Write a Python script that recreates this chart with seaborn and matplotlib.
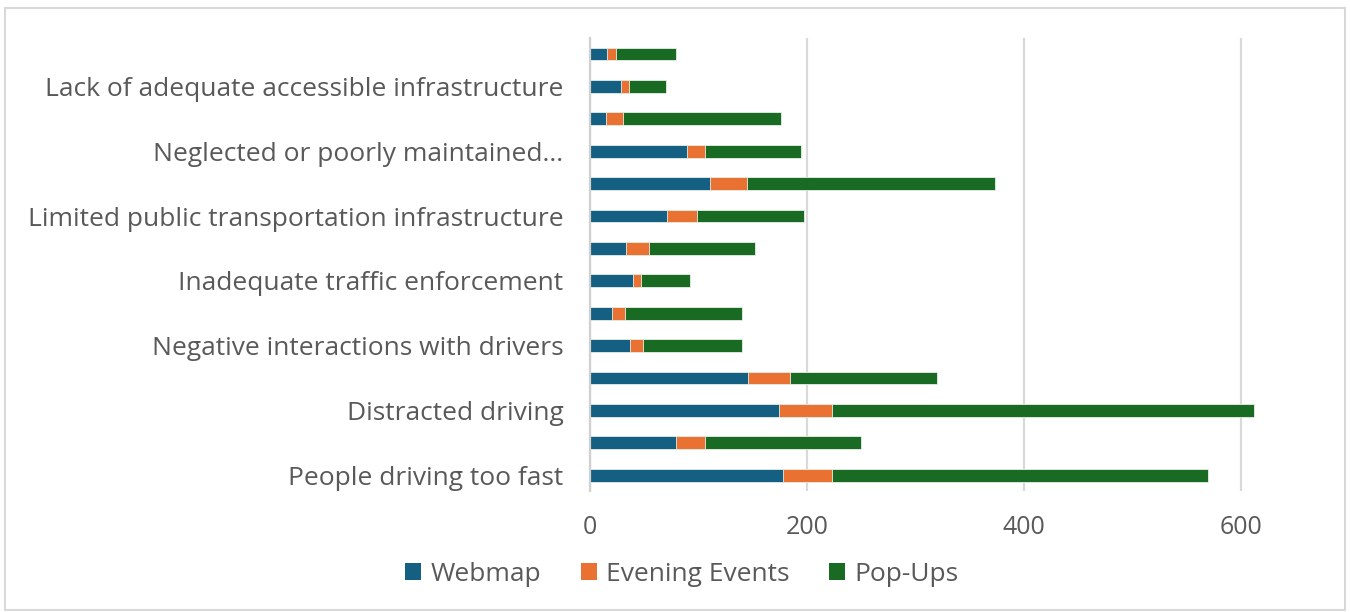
import matplotlib
matplotlib.use("Agg")
import matplotlib.pyplot as plt
import seaborn as sns
import pandas as pd
from matplotlib.patches import Patch, Rectangle

# ---- data (top to bottom as drawn) ----
categories = [
    "Unlabeled 1",
    "Lack of adequate accessible infrastructure",
    "Unlabeled 2",
    "Neglected or poorly maintained...",
    "Unlabeled 3",
    "Limited public transportation infrastructure",
    "Unlabeled 4",
    "Inadequate traffic enforcement",
    "Unlabeled 5",
    "Negative interactions with drivers",
    "Unlabeled 6",
    "Distracted driving",
    "Unlabeled 7",
    "People driving too fast",
]
tick_labels = [
    "",
    "Lack of adequate accessible infrastructure",
    "",
    "Neglected or poorly maintained...",
    "",
    "Limited public transportation infrastructure",
    "",
    "Inadequate traffic enforcement",
    "",
    "Negative interactions with drivers",
    "",
    "Distracted driving",
    "",
    "People driving too fast",
]
webmap = [16, 29, 15, 89, 111, 71, 33, 40, 20, 37, 146, 174, 79, 178]
evening = [8, 7, 15, 17, 34, 28, 21, 7, 12, 12, 38, 49, 27, 45]
popups = [55, 34, 146, 88, 228, 98, 98, 45, 108, 91, 136, 389, 144, 346]
series_names = ["Webmap", "Evening Events", "Pop-Ups"]
x_ticks = [0, 200, 400, 600]

colors = ["#156082", "#E97132", "#196B24"]
text_color = "#595959"

sns.set_theme(style="white")
plt.rcParams["font.family"] = ["Open Sans", "DejaVu Sans"]

df = pd.DataFrame({"cat": categories, "Webmap": webmap,
                   "Evening Events": evening, "Pop-Ups": popups})
df["c1"] = df["Webmap"]
df["c2"] = df["c1"] + df["Evening Events"]
df["c3"] = df["c2"] + df["Pop-Ups"]

fig = plt.figure(figsize=(13.5, 6.12), dpi=100)
ax = fig.add_axes([590 / 1350, 1 - 491.4 / 612, 700 / 1350, (491.4 - 37.8) / 612])

for col, c in zip(["c3", "c2", "c1"], [colors[2], colors[1], colors[0]]):
    sns.barplot(data=df, y="cat", x=col, order=categories, color=c,
                orient="h", width=0.4, ax=ax, edgecolor="#E8EFE8",
                linewidth=0.6, saturation=1)

ax.set_xlim(0, 645)
ax.set_ylim(13.5, -0.5)
ax.set_xticks(x_ticks)
ax.set_xticklabels([str(t) for t in x_ticks])
ax.set_yticks(range(len(categories)))
ax.set_yticklabels(tick_labels)
ax.set_xlabel("")
ax.set_ylabel("")
ax.tick_params(axis="y", length=0, labelsize=19, labelcolor=text_color, pad=19)
ax.tick_params(axis="x", length=0, labelsize=18, labelcolor=text_color, pad=17)
ax.grid(axis="x", color="#D9D9D9", linewidth=1.6)
ax.set_axisbelow(True)
for s in ["top", "right", "bottom"]:
    ax.spines[s].set_visible(False)
ax.spines["left"].set_color("#D0D0D0")
ax.spines["left"].set_linewidth(1.6)

handles = [Patch(facecolor=c, edgecolor="none") for c in colors]
fig.legend(handles, series_names, loc="center", bbox_to_anchor=(0.505, 0.062),
           ncol=3, frameon=False, fontsize=19, labelcolor=text_color,
           handlelength=0.6, handleheight=0.6, handletextpad=0.35,
           columnspacing=1.5)

fig.patches.append(Rectangle((5 / 1350, 2 / 612), 1340 / 1350, 602 / 612,
                             transform=fig.transFigure, fill=False,
                             edgecolor="#D9D9D9", linewidth=1.5))

fig.savefig("out.png", dpi=100)
